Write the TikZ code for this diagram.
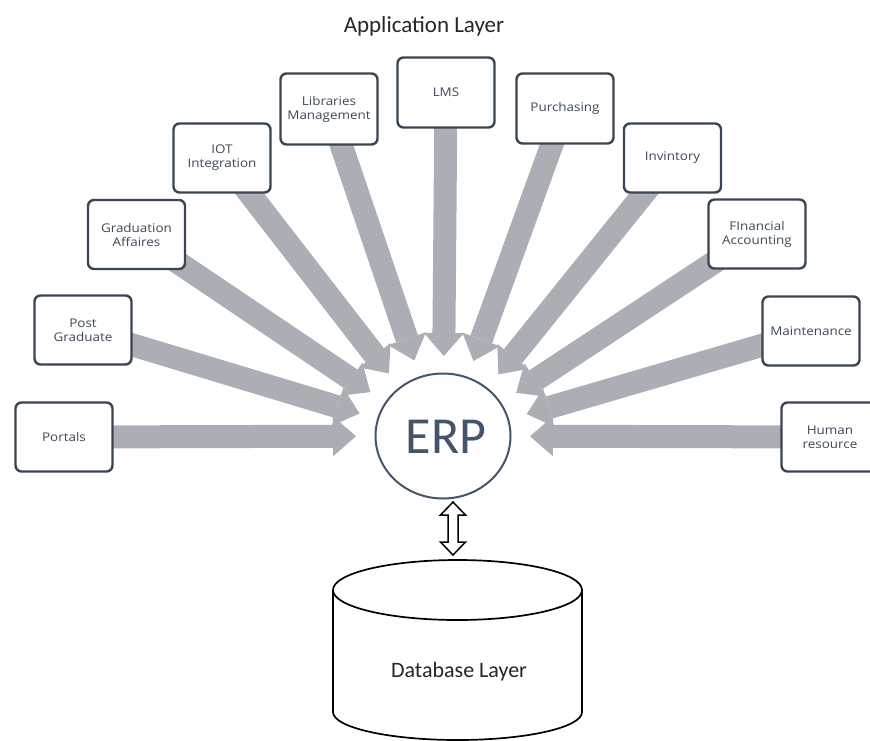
\documentclass[tikz,border=0pt]{standalone}
\usepackage{fontspec}
\setmainfont{Carlito}
\newfontfamily\boxfont[FakeStretch=1.12]{Open Sans}
\usetikzlibrary{arrows.meta,calc,shapes.geometric}
\definecolor{arrowgray}{RGB}{171,174,181}
\definecolor{boxline}{RGB}{58,69,84}
\definecolor{boxtext}{RGB}{62,73,88}
\definecolor{erpblue}{RGB}{68,84,106}
\pgfdeclarelayer{bg}
\pgfsetlayers{bg,main}
\begin{document}
\begin{tikzpicture}[x=1pt,y=-1pt,
  appbox/.style={draw=boxline, line width=2.4pt, fill=white, rounded corners=6pt,
    minimum width=97pt, minimum height=69pt, align=center, inner sep=0pt,
    font=\boxfont\fontsize{12}{14}\selectfont, text=boxtext},
  bigarrow/.style={draw=arrowgray, line width=23pt,
    -{Triangle[width=40pt,length=23pt,line width=0pt]}},
  cyl/.style={draw=black, line width=1.7pt, fill=white}
]
\useasboundingbox (0,0) rectangle (870,740);

% title
\node[font=\fontsize{23}{27}\selectfont, text=black!85] (title) at (424,26) {Application Layer};

% application boxes
\node[appbox] (portals) at (64,437) {Portals};
\node[appbox] (post) at (83,330) {Post\\Graduate};
\node[appbox] (grad) at (136.5,234.5) {Graduation\\Affaires};
\node[appbox] (iot) at (222,158) {IOT\\Integration};
\node[appbox, minimum height=71pt] (lib) at (329,109) {Libraries\\Management};
\node[appbox, minimum height=70pt] (lms) at (446,92.5) {LMS};
\node[appbox, minimum height=70pt] (purch) at (565,108.5) {Purchasing};
\node[appbox] (inv) at (672.5,158) {Invintory};
\node[appbox] (fin) at (757,234) {FInancial\\Accounting};
\node[appbox] (maint) at (811,331) {Maintenance};
\node[appbox] (hr) at (830,437) {Human\\resource};

% ERP
\node[ellipse, draw=erpblue, line width=2pt, minimum width=135pt, minimum height=125pt,
  inner sep=0pt] (erp) at (443,436) {};
\node[font=\fontsize{52}{58}\selectfont, text=erpblue] (erptext) at (446,437) {ERP};

% arrows into ERP
\begin{pgfonlayer}{bg}
\foreach \b in {portals,post,grad,iot,lib,lms,purch,inv,fin,maint,hr} {
  \path let \p1=(\b.center), \p2=(erp.center), \n1={atan2(\y1-\y2,\x1-\x2)} in
    coordinate (\b-tip) at ($(erp.center)+(\n1:87pt and 80pt)$);
  \draw[bigarrow] (\b.center) -- (\b-tip);
}
\end{pgfonlayer}

% database cylinder
\draw[cyl] (333,590) -- (333,712) arc[start angle=180, end angle=360, x radius=124.5pt, y radius=28pt]
  -- (582,590);
\draw[cyl] (457.5,590) ellipse[x radius=124.5pt, y radius=30pt];
\node[font=\fontsize{22}{26}\selectfont, text=black!85] (db) at (459,672) {Database Layer};

% double arrow between ERP and database
\coordinate (da) at (453,502);
\coordinate (dz) at (453,555);
\draw[line width=1.5pt, line join=miter, fill=white]
  (da) -- ++(12.5,13) -- ++(-7.5,0) -- ++(0,27) -- ++(7.5,0) -- (dz)
  -- ++(-12.5,-13) -- ++(7.5,0) -- ++(0,-27) -- ++(-7.5,0) -- cycle;
\end{tikzpicture}
\end{document}
